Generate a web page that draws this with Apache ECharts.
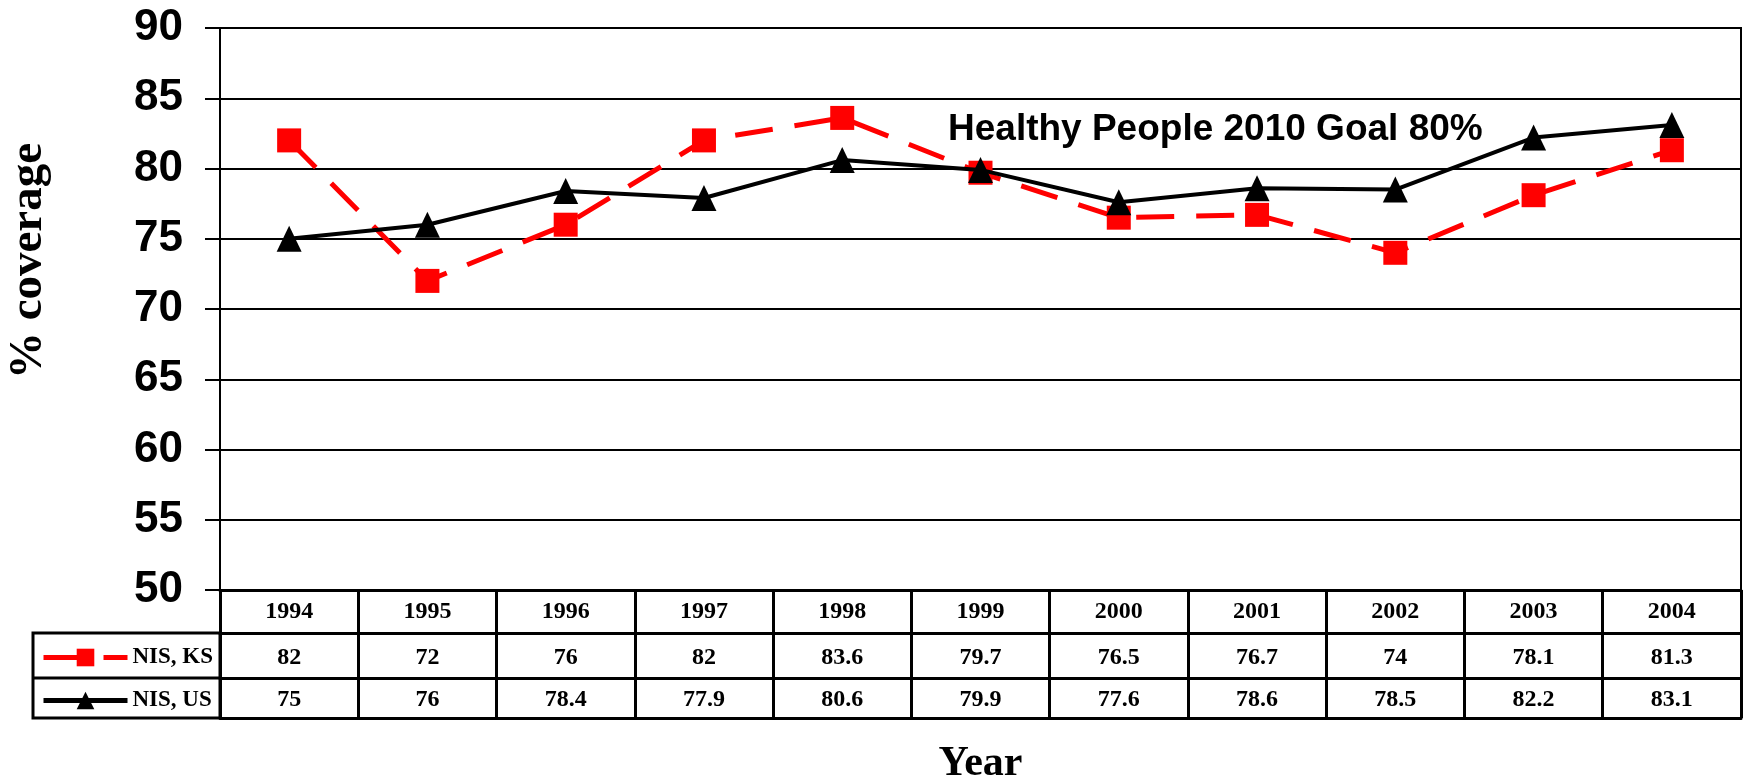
<!DOCTYPE html>
<html>
<head>
<meta charset="utf-8">
<script src="https://cdn.jsdelivr.net/npm/echarts@6/dist/echarts.min.js"></script>
<style>
  html, body { margin: 0; padding: 0; background: #fff; }
  #chart { width: 1744px; height: 780px; }
</style>
</head>
<body>
<div id="chart"></div>
<script>
(function() {
    // years along the x axis
    var years = ['1994', '1995', '1996', '1997', '1998', '1999', '2000', '2001', '2002', '2003', '2004'];

    // NIS, KS (red dashed)
    var ksValues = [82, 72, 76, 82, 83.6, 79.7, 76.5, 76.7, 74, 78.1, 81.3];

    // NIS, US (black solid)
    var usValues = [75, 76, 78.4, 77.9, 80.6, 79.9, 77.6, 78.6, 78.5, 82.2, 83.1];

    var seriesNames = ['NIS, KS', 'NIS, US'];

    var sans = '"Liberation Sans", Arial, sans-serif';
    var serif = '"Liberation Serif", "Times New Roman", serif';
    var tableLine = { color: '#000', width: 3 };

    var myChart = echarts.init(document.getElementById('chart'));

    // value rows of the table under the plot, one x axis per row
    function rowAxis(offset, values, margin) {
        return {
            type: 'category',
            data: years,
            position: 'bottom',
            offset: offset,
            axisLine: { show: true, lineStyle: tableLine },
            axisTick: { show: false },
            axisLabel: {
                show: values !== null,
                margin: margin,
                interval: 0,
                fontFamily: serif,
                fontWeight: 'bold',
                fontSize: 24,
                color: '#000',
                formatter: function(v, i) {
                    return values ? String(values[i]) : '';
                }
            }
        };
    }

    myChart.setOption({
        animation: false,
        grid: {
            left: 220,
            right: 3,
            top: 28,
            bottom: 190,
            outerBoundsMode: 'none',
            show: true,
            borderColor: '#000',
            borderWidth: 2
        },
        legend: {
            orient: 'vertical',
            left: 36,
            top: 641,
            itemWidth: 84,
            itemHeight: 22,
            itemGap: 20,
            selectedMode: false,
            data: [
                { name: seriesNames[0], lineStyle: { width: 5 } },
                { name: seriesNames[1], lineStyle: { width: 5 } }
            ],
            textStyle: {
                fontFamily: serif,
                fontWeight: 'bold',
                fontSize: 23,
                color: '#000'
            }
        },
        xAxis: [{
            type: 'category',
            data: years,
            position: 'bottom',
            axisLine: { show: true, lineStyle: tableLine },
            axisTick: { show: true, inside: false, length: 128, lineStyle: tableLine },
            axisLabel: {
                interval: 0,
                margin: 10,
                fontFamily: serif,
                fontWeight: 'bold',
                fontSize: 24,
                color: '#000'
            },
            name: 'Year',
            nameLocation: 'middle',
            nameGap: 153,
            nameTextStyle: {
                fontFamily: serif,
                fontWeight: 'bold',
                fontSize: 42,
                color: '#000'
            }
        },
            rowAxis(43, ksValues, 13),
            rowAxis(88, usValues, 10),
            rowAxis(128, null, 0)
        ],
        yAxis: {
            type: 'value',
            min: 50,
            max: 90,
            interval: 5,
            axisLine: { show: true, lineStyle: { color: '#000', width: 2 } },
            axisTick: { show: true, inside: false, length: 15, lineStyle: { color: '#000', width: 2 } },
            splitLine: { lineStyle: { color: '#000', width: 2 } },
            axisLabel: {
                margin: 37,
                fontFamily: sans,
                fontWeight: 'bold',
                fontSize: 44,
                color: '#000'
            }
        },
        graphic: [{
            // legend column of the table
            type: 'rect',
            shape: { x: 33, y: 633, width: 187, height: 85 },
            style: { fill: 'none', stroke: '#000', lineWidth: 3 }
        }, {
            type: 'line',
            shape: { x1: 33, y1: 678, x2: 220, y2: 678 },
            style: { stroke: '#000', lineWidth: 3 }
        }, {
            // y axis title
            type: 'text',
            x: 29,
            y: 261,
            rotation: Math.PI / 2,
            style: {
                text: '% coverage',
                fontFamily: serif,
                fontWeight: 'bold',
                fontSize: 47,
                fill: '#000',
                align: 'center',
                verticalAlign: 'middle'
            }
        }, {
            type: 'text',
            left: 948,
            top: 111,
            style: {
                text: 'Healthy People 2010 Goal 80%',
                fontFamily: sans,
                fontWeight: 'bold',
                fontSize: 37,
                fill: '#000'
            }
        }],
        series: [{
            name: seriesNames[0],
            type: 'line',
            data: ksValues,
            symbol: 'rect',
            symbolSize: 24,
            itemStyle: { color: '#ff0000' },
            lineStyle: { color: '#ff0000', width: 5, type: [38, 22] },
            z: 2
        }, {
            name: seriesNames[1],
            type: 'line',
            data: usValues,
            symbol: 'triangle',
            symbolSize: [25, 26],
            itemStyle: { color: '#000' },
            lineStyle: { color: '#000', width: 4 },
            z: 3
        }]
    });
})();
</script>
</body>
</html>
